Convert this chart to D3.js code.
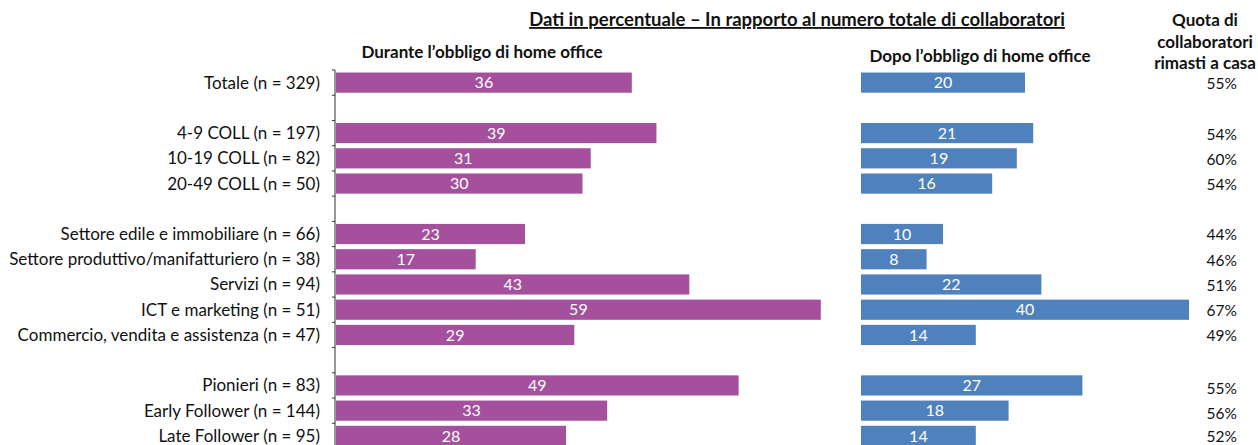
<!DOCTYPE html>
<html><head><meta charset="utf-8">
<script src="https://cdn.jsdelivr.net/npm/d3@7"></script>
<style>body{margin:0;background:#fff}svg{display:block}</style>
</head><body>
<script>
const categories = ["Totale (n = 329)", "", "4-9 COLL (n = 197)", "10-19 COLL (n = 82)", "20-49 COLL (n = 50)", " ",
  "Settore edile e immobiliare (n = 66)", "Settore produttivo/manifatturiero (n = 38)", "Servizi (n = 94)",
  "ICT e marketing (n = 51)", "Commercio, vendita e assistenza (n = 47)", "  ",
  "Pionieri (n = 83)", "Early Follower (n = 144)", "Late Follower (n = 95)"];
const durante = [36, null, 39, 31, 30, null, 23, 17, 43, 59, 29, null, 49, 33, 28];
const dopo = [20, null, 21, 19, 16, null, 10, 8, 22, 40, 14, null, 27, 18, 14];
const quota = ["55%", null, "54%", "60%", "54%", null, "44%", "46%", "51%", "67%", "49%", null, "55%", "56%", "52%"];
const titleMain = "Dati in percentuale \u2013 In rapporto al numero totale di collaboratori";
const titleLeft = "Durante l\u2019obbligo di home office";
const titleRight = "Dopo l\u2019obbligo di home office";
const titleQuota = ["Quota di", "collaboratori", "rimasti a casa"];

const W = 1258, H = 445;
const font = "Lato, 'Open Sans', sans-serif";
const svg = d3.select("body").append("svg").attr("width", W).attr("height", H);

const y = d3.scaleBand().domain(categories).range([70, 448.5]).paddingInner(0.2).paddingOuter(0.1);
const step = y.step();
const xL = d3.scaleLinear().domain([0, 60]).range([336, 336 + 493]);
const xR = d3.scaleLinear().domain([0, 60]).range([861, 861 + 492]);
const idx = d3.range(categories.length);
const purple = "#A4509C", blue = "#4F81BD";

// axis line & ticks on left
const axX = 335;
const y0 = y.range()[0];
svg.append("line").attr("x1", axX).attr("x2", axX).attr("y1", y0).attr("y2", H + 10)
  .attr("stroke", "#333").attr("stroke-width", 1);
d3.range(categories.length + 1).forEach(i => {
  const yy = y0 + i * step;
  svg.append("line").attr("x1", axX - 3).attr("x2", axX).attr("y1", yy).attr("y2", yy)
    .attr("stroke", "#333").attr("stroke-width", 1);
});

// category labels
svg.append("g").selectAll("text").data(idx.filter(i => durante[i] != null)).join("text")
  .attr("x", 320).attr("y", i => y(categories[i]) + y.bandwidth() / 2)
  .attr("dy", "0.35em").attr("text-anchor", "end")
  .attr("font-family", font).attr("font-size", 17).attr("fill", "#111")
  .text(i => categories[i]);

function bars(vals, x, color) {
  const g = svg.append("g");
  const d = idx.filter(i => vals[i] != null);
  g.selectAll("rect").data(d).join("rect")
    .attr("x", x(0)).attr("y", i => y(categories[i]))
    .attr("width", i => x(vals[i]) - x(0)).attr("height", y.bandwidth())
    .attr("fill", color);
  g.selectAll("text").data(d).join("text")
    .attr("x", i => (x(0) + x(vals[i])) / 2).attr("y", i => y(categories[i]) + y.bandwidth() / 2)
    .attr("dy", "0.36em").attr("text-anchor", "middle")
    .attr("font-family", font).attr("font-size", 16).attr("fill", "#fff")
    .text(i => vals[i]);
}
bars(durante, xL, purple);
bars(dopo, xR, blue);

// quota column
svg.append("g").selectAll("text").data(idx.filter(i => quota[i] != null)).join("text")
  .attr("x", 1237).attr("y", i => y(categories[i]) + y.bandwidth() / 2 + (i >= 12 && i < 14 ? 3 : 1))
  .attr("dy", "0.35em").attr("text-anchor", "end")
  .attr("font-family", font).attr("font-size", 15.5).attr("fill", "#111")
  .text(i => quota[i]);

// titles
svg.append("text").attr("x", 797).attr("y", 26).attr("text-anchor", "middle")
  .attr("font-family", font).attr("font-size", 18.5).attr("font-weight", "bold")
  .attr("text-decoration", "underline").attr("fill", "#111").text(titleMain);
svg.append("text").attr("x", 482).attr("y", 58).attr("text-anchor", "middle")
  .attr("font-family", font).attr("font-size", 17).attr("font-weight", "bold")
  .attr("fill", "#111").text(titleLeft);
svg.append("text").attr("x", 980).attr("y", 62).attr("text-anchor", "middle")
  .attr("font-family", font).attr("font-size", 17).attr("font-weight", "bold")
  .attr("fill", "#111").text(titleRight);
titleQuota.forEach((t, k) => {
  svg.append("text").attr("x", 1205).attr("y", 26 + k * 21.5).attr("text-anchor", "middle")
    .attr("font-family", font).attr("font-size", 17).attr("font-weight", "bold")
    .attr("fill", "#111").text(t);
});
</script>
</body></html>
